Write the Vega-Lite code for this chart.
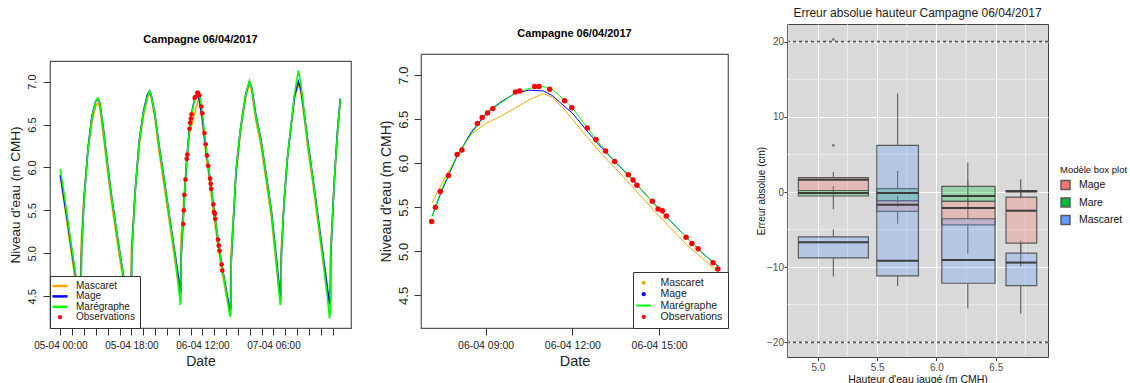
{
"$schema": "https://vega.github.io/schema/vega-lite/v6.json",
"padding": {"left": 7, "top": 6, "right": 0, "bottom": 0},
"background": "white",
"config": {"font": "Liberation Sans", "view": {"stroke": null}, "axis": {"labelOverlap": false}},
"spacing": 26,
"resolve": {"scale": {"color": "independent"}, "legend": {"color": "independent"}},
"datasets": {
"tide": [
{"t":"2017-04-05T00:00","G":5.98,"B":5.91,"O":5.90},
{"t":"2017-04-05T01:00","G":5.68,"B":5.62,"O":5.58},
{"t":"2017-04-05T02:00","G":5.35,"B":5.32,"O":5.25},
{"t":"2017-04-05T03:00","G":5.03,"B":5.00,"O":4.93},
{"t":"2017-04-05T04:00","G":4.72,"B":4.70,"O":4.62},
{"t":"2017-04-05T04:48","G":4.50,"B":4.55,"O":4.45},
{"t":"2017-04-05T05:06","G":4.45,"B":4.52,"O":4.42},
{"t":"2017-04-05T05:12","G":4.46,"B":4.55,"O":5.00},
{"t":"2017-04-05T05:24","G":5.05,"B":5.05,"O":5.25},
{"t":"2017-04-05T06:00","G":5.60,"B":5.62,"O":5.68},
{"t":"2017-04-05T07:00","G":6.20,"B":6.22,"O":6.20},
{"t":"2017-04-05T08:00","G":6.58,"B":6.60,"O":6.52},
{"t":"2017-04-05T09:00","G":6.78,"B":6.78,"O":6.72},
{"t":"2017-04-05T09:30","G":6.81,"B":6.79,"O":6.75},
{"t":"2017-04-05T10:00","G":6.75,"B":6.76,"O":6.70},
{"t":"2017-04-05T11:00","G":6.40,"B":6.42,"O":6.33},
{"t":"2017-04-05T12:00","G":6.00,"B":6.02,"O":5.93},
{"t":"2017-04-05T13:00","G":5.65,"B":5.66,"O":5.58},
{"t":"2017-04-05T14:00","G":5.33,"B":5.34,"O":5.26},
{"t":"2017-04-05T15:00","G":5.02,"B":5.03,"O":4.95},
{"t":"2017-04-05T16:00","G":4.72,"B":4.74,"O":4.66},
{"t":"2017-04-05T17:00","G":4.50,"B":4.56,"O":4.45},
{"t":"2017-04-05T17:48","G":4.40,"B":4.52,"O":4.40},
{"t":"2017-04-05T18:00","G":4.42,"B":4.55,"O":5.05},
{"t":"2017-04-05T18:06","G":5.00,"B":5.00,"O":5.15},
{"t":"2017-04-05T19:00","G":5.75,"B":5.76,"O":5.72},
{"t":"2017-04-05T20:00","G":6.30,"B":6.32,"O":6.25},
{"t":"2017-04-05T21:00","G":6.62,"B":6.64,"O":6.58},
{"t":"2017-04-05T22:00","G":6.82,"B":6.84,"O":6.80},
{"t":"2017-04-05T22:36","G":6.89,"B":6.89,"O":6.86},
{"t":"2017-04-05T23:00","G":6.85,"B":6.85,"O":6.82},
{"t":"2017-04-06T00:00","G":6.60,"B":6.61,"O":6.55},
{"t":"2017-04-06T01:00","G":6.25,"B":6.26,"O":6.18},
{"t":"2017-04-06T02:00","G":5.95,"B":5.96,"O":5.88},
{"t":"2017-04-06T03:00","G":5.63,"B":5.64,"O":5.56},
{"t":"2017-04-06T04:00","G":5.30,"B":5.32,"O":5.24},
{"t":"2017-04-06T05:00","G":4.98,"B":5.01,"O":4.92},
{"t":"2017-04-06T06:00","G":4.60,"B":4.70,"O":4.60},
{"t":"2017-04-06T06:24","G":4.40,"B":4.53,"O":4.50},
{"t":"2017-04-06T06:33","G":4.45,"B":4.56,"O":5.10},
{"t":"2017-04-06T06:36","G":5.00,"B":4.95,"O":5.20},
{"t":"2017-04-06T07:09","G":5.40,"B":5.40,"O":5.55},
{"t":"2017-04-06T07:30","G":5.72,"B":5.70,"O":5.78},
{"t":"2017-04-06T08:00","G":6.08,"B":6.07,"O":6.07},
{"t":"2017-04-06T08:30","G":6.33,"B":6.35,"O":6.33},
{"t":"2017-04-06T09:00","G":6.55,"B":6.56,"O":6.45},
{"t":"2017-04-06T09:30","G":6.68,"B":6.69,"O":6.53},
{"t":"2017-04-06T10:00","G":6.79,"B":6.79,"O":6.62},
{"t":"2017-04-06T10:30","G":6.85,"B":6.83,"O":6.72},
{"t":"2017-04-06T11:00","G":6.87,"B":6.82,"O":6.79},
{"t":"2017-04-06T11:18","G":6.84,"B":6.77,"O":6.75},
{"t":"2017-04-06T11:45","G":6.71,"B":6.64,"O":6.60},
{"t":"2017-04-06T12:00","G":6.63,"B":6.57,"O":6.50},
{"t":"2017-04-06T12:30","G":6.41,"B":6.37,"O":6.30},
{"t":"2017-04-06T13:00","G":6.20,"B":6.18,"O":6.11},
{"t":"2017-04-06T13:30","G":6.01,"B":6.01,"O":5.94},
{"t":"2017-04-06T14:00","G":5.85,"B":5.84,"O":5.76},
{"t":"2017-04-06T14:30","G":5.66,"B":5.66,"O":5.58},
{"t":"2017-04-06T15:00","G":5.48,"B":5.48,"O":5.40},
{"t":"2017-04-06T15:30","G":5.31,"B":5.31,"O":5.23},
{"t":"2017-04-06T16:00","G":5.14,"B":5.14,"O":5.06},
{"t":"2017-04-06T16:30","G":4.98,"B":4.98,"O":4.92},
{"t":"2017-04-06T17:03","G":4.82,"B":4.83,"O":4.76},
{"t":"2017-04-06T18:00","G":4.55,"B":4.58,"O":4.52},
{"t":"2017-04-06T19:00","G":4.26,"B":4.33,"O":4.30},
{"t":"2017-04-06T19:12","G":4.30,"B":4.35,"O":4.95},
{"t":"2017-04-06T19:18","G":4.95,"B":4.90,"O":5.05},
{"t":"2017-04-06T20:30","G":5.97,"B":5.95,"O":5.90},
{"t":"2017-04-06T21:30","G":6.40,"B":6.40,"O":6.35},
{"t":"2017-04-06T22:12","G":6.62,"B":6.63,"O":6.58},
{"t":"2017-04-06T23:00","G":6.86,"B":6.86,"O":6.82},
{"t":"2017-04-06T23:54","G":7.01,"B":7.00,"O":6.98},
{"t":"2017-04-07T00:30","G":6.92,"B":6.93,"O":6.88},
{"t":"2017-04-07T01:30","G":6.60,"B":6.62,"O":6.55},
{"t":"2017-04-07T02:48","G":6.32,"B":6.33,"O":6.26},
{"t":"2017-04-07T04:00","G":5.95,"B":5.96,"O":5.88},
{"t":"2017-04-07T05:24","G":5.50,"B":5.52,"O":5.44},
{"t":"2017-04-07T06:30","G":5.00,"B":5.05,"O":4.95},
{"t":"2017-04-07T07:42","G":4.40,"B":4.49,"O":4.45},
{"t":"2017-04-07T07:54","G":4.45,"B":4.52,"O":5.00},
{"t":"2017-04-07T08:00","G":5.00,"B":4.98,"O":5.10},
{"t":"2017-04-07T08:42","G":5.62,"B":5.60,"O":5.62},
{"t":"2017-04-07T09:30","G":6.10,"B":6.10,"O":6.08},
{"t":"2017-04-07T10:24","G":6.47,"B":6.47,"O":6.45},
{"t":"2017-04-07T11:18","G":6.85,"B":6.82,"O":6.80},
{"t":"2017-04-07T12:18","G":7.13,"B":7.00,"O":6.98},
{"t":"2017-04-07T13:00","G":6.95,"B":6.90,"O":6.85},
{"t":"2017-04-07T14:00","G":6.55,"B":6.56,"O":6.50},
{"t":"2017-04-07T14:42","G":6.28,"B":6.30,"O":6.22},
{"t":"2017-04-07T16:00","G":5.85,"B":5.87,"O":5.80},
{"t":"2017-04-07T17:12","G":5.42,"B":5.45,"O":5.37},
{"t":"2017-04-07T18:30","G":4.95,"B":5.00,"O":4.92},
{"t":"2017-04-07T19:30","G":4.55,"B":4.65,"O":4.55},
{"t":"2017-04-07T20:12","G":4.24,"B":4.41,"O":4.38},
{"t":"2017-04-07T20:27","G":4.35,"B":4.45,"O":5.00},
{"t":"2017-04-07T20:30","G":5.00,"B":4.95,"O":5.10},
{"t":"2017-04-07T21:24","G":5.85,"B":5.85,"O":5.82},
{"t":"2017-04-07T22:12","G":6.40,"B":6.42,"O":6.38},
{"t":"2017-04-07T22:54","G":6.79,"B":6.80,"O":6.75}
],
"obs": [
{"t":"2017-04-06T07:08","v":5.34},{"t":"2017-04-06T07:16","v":5.50},{"t":"2017-04-06T07:26","v":5.68},
{"t":"2017-04-06T07:43","v":5.86},{"t":"2017-04-06T08:01","v":6.10},{"t":"2017-04-06T08:11","v":6.15},
{"t":"2017-04-06T08:43","v":6.45},{"t":"2017-04-06T08:53","v":6.52},{"t":"2017-04-06T09:04","v":6.57},
{"t":"2017-04-06T09:15","v":6.62},{"t":"2017-04-06T10:02","v":6.81},{"t":"2017-04-06T10:11","v":6.82},
{"t":"2017-04-06T10:42","v":6.87},{"t":"2017-04-06T10:51","v":6.87},{"t":"2017-04-06T11:13","v":6.84},
{"t":"2017-04-06T11:44","v":6.71},{"t":"2017-04-06T11:59","v":6.63},{"t":"2017-04-06T12:31","v":6.40},
{"t":"2017-04-06T12:49","v":6.27},{"t":"2017-04-06T13:09","v":6.14},{"t":"2017-04-06T13:28","v":6.02},
{"t":"2017-04-06T13:56","v":5.87},{"t":"2017-04-06T14:06","v":5.81},{"t":"2017-04-06T14:14","v":5.75},
{"t":"2017-04-06T14:46","v":5.57},{"t":"2017-04-06T14:58","v":5.48},{"t":"2017-04-06T15:07","v":5.46},
{"t":"2017-04-06T15:15","v":5.40},{"t":"2017-04-06T15:56","v":5.16},{"t":"2017-04-06T16:08","v":5.09},
{"t":"2017-04-06T16:21","v":5.03},{"t":"2017-04-06T16:52","v":4.87},{"t":"2017-04-06T17:02","v":4.80}
],
"boxes": [
{"model":"Mage","xmin":4.836,"xmax":5.426,"xc":5.131,"lower":-0.5,"q1":0.2,"median":1.64,"q3":1.9,"upper":2.67},
{"model":"Mare","xmin":4.836,"xmax":5.426,"xc":5.131,"lower":-2.3,"q1":-0.53,"median":-0.13,"q3":0.2,"upper":0.8},
{"model":"Mascaret","xmin":4.836,"xmax":5.426,"xc":5.131,"lower":-11.25,"q1":-8.76,"median":-6.7,"q3":-5.96,"upper":-4.98},
{"model":"Mage","xmin":5.497,"xmax":5.848,"xc":5.672,"lower":-4.2,"q1":-2.58,"median":-1.69,"q3":-1.16,"upper":-0.5},
{"model":"Mare","xmin":5.497,"xmax":5.848,"xc":5.672,"lower":-2.0,"q1":-1.16,"median":-0.13,"q3":0.44,"upper":2.8},
{"model":"Mascaret","xmin":5.497,"xmax":5.848,"xc":5.672,"lower":-12.5,"q1":-11.16,"median":-9.16,"q3":6.2,"upper":13.1},
{"model":"Mage","xmin":6.045,"xmax":6.494,"xc":6.264,"lower":-8.2,"q1":-4.36,"median":-2.13,"q3":-1.25,"upper":-0.9},
{"model":"Mare","xmin":6.045,"xmax":6.494,"xc":6.264,"lower":-2.0,"q1":-1.25,"median":-0.53,"q3":0.75,"upper":1.5},
{"model":"Mascaret","xmin":6.045,"xmax":6.494,"xc":6.264,"lower":-15.5,"q1":-12.14,"median":-9.03,"q3":-3.56,"upper":3.9},
{"model":"Mage","xmin":6.586,"xmax":6.845,"xc":6.71,"lower":-9.9,"q1":-6.8,"median":-2.49,"q3":-0.67,"upper":0.3},
{"model":"Mare","xmin":6.586,"xmax":6.845,"xc":6.71,"lower":-0.9,"q1":0.0,"median":0.1,"q3":0.2,"upper":1.7},
{"model":"Mascaret","xmin":6.586,"xmax":6.845,"xc":6.71,"lower":-16.2,"q1":-12.45,"median":-9.39,"q3":-8.14,"upper":-6.5}
],
"outliers": [{"x":5.131,"v":6.2},{"x":5.131,"v":20.3}]
},
"hconcat": [
{
"spacing": 0,
"resolve": {"scale": {"color": "independent"}, "legend": {"color": "independent"}},
"vconcat": [
{"width": 301, "height": 9, "data": {"values": []}, "mark": {"type": "point"}, "encoding": {}, "view": {"stroke": null}},
{
"width": 301, "height": 267,
"title": {"text": "Campagne 06/04/2017", "fontSize": 11, "fontWeight": "bold", "offset": 16, "color": "#000"},
"view": {"stroke": "#555", "strokeWidth": 1.2},
"layer": [
{"data": {"name": "tide"}, "mark": {"type": "line", "strokeWidth": 1.6},
"encoding": {
"x": {"field": "t", "type": "temporal", "title": "Date",
"scale": {"domain": [{"year":2017,"month":4,"date":4,"hours":21,"minutes":23},{"year":2017,"month":4,"date":8,"hours":1,"minutes":38}], "nice": false},
"axis": {"values": [
{"year":2017,"month":4,"date":5,"hours":0},{"year":2017,"month":4,"date":5,"hours":3},{"year":2017,"month":4,"date":5,"hours":6},{"year":2017,"month":4,"date":5,"hours":9},
{"year":2017,"month":4,"date":5,"hours":12},{"year":2017,"month":4,"date":5,"hours":15},{"year":2017,"month":4,"date":5,"hours":18},{"year":2017,"month":4,"date":5,"hours":21},
{"year":2017,"month":4,"date":6,"hours":0},{"year":2017,"month":4,"date":6,"hours":3},{"year":2017,"month":4,"date":6,"hours":6},{"year":2017,"month":4,"date":6,"hours":9},
{"year":2017,"month":4,"date":6,"hours":12},{"year":2017,"month":4,"date":6,"hours":15},{"year":2017,"month":4,"date":6,"hours":18},{"year":2017,"month":4,"date":6,"hours":21},
{"year":2017,"month":4,"date":7,"hours":0},{"year":2017,"month":4,"date":7,"hours":3},{"year":2017,"month":4,"date":7,"hours":6},{"year":2017,"month":4,"date":7,"hours":9},
{"year":2017,"month":4,"date":7,"hours":12},{"year":2017,"month":4,"date":7,"hours":15},{"year":2017,"month":4,"date":7,"hours":18},{"year":2017,"month":4,"date":7,"hours":21}],
"tickCount": 40,
"labelExpr": "indexof(['05-04 00:00', '05-04 18:00', '06-04 12:00', '07-04 06:00'], timeFormat(datum.value, '%d-%m %H:%M')) >= 0 ? timeFormat(datum.value, '%d-%m %H:%M') : ''",
"grid": false, "domain": false, "tickSize": 7, "tickColor": "#333", "labelPadding": 5, "labelFontSize": 10, "labelColor": "#222", "labelFlush": false, "labelOverlap": false, "labelBound": false, "titleFontSize": 14, "titleFontWeight": "normal", "titlePadding": 4, "titleColor": "#222"}},
"y": {"field": "O", "type": "quantitative", "title": "Niveau d'eau (m CMH)",
"scale": {"domain": [4.13, 7.24], "nice": false, "zero": false},
"axis": {"values": [4.5, 5, 5.5, 6, 6.5, 7], "tickCount": 10, "format": ".1f", "labelAngle": -90, "labelAlign": "center", "labelBaseline": "bottom", "grid": false, "domain": false, "tickSize": 7, "tickColor": "#333", "labelPadding": 6, "labelFontSize": 11, "labelColor": "#222", "titleFontSize": 13.5, "titleFontWeight": "normal", "titlePadding": 4, "titleColor": "#222"}},
"color": {"datum": "Mascaret", "type": "nominal",
"scale": {"domain": ["Mascaret", "Mage", "Marégraphe", "Observations"], "range": ["#FFA500", "#0000FF", "#00FF00", "#FF0000"]},
"legend": {"orient": "bottom-left", "offset": 0, "title": null, "fillColor": "white", "strokeColor": "#333", "padding": 5, "labelFontSize": 10, "labelColor": "#222", "rowPadding": 0.4, "symbolSize": 121, "labelOffset": 11, "cornerRadius": 0,
"encode": {"symbols": {"update": {
"shape": {"signal": "datum.value === 'Observations' ? 'circle' : 'stroke'"},
"size": {"signal": "datum.value === 'Observations' ? 18 : 225"},
"fill": {"signal": "datum.value === 'Observations' ? '#FF0000' : 'transparent'"},
"stroke": {"signal": "datum.value === 'Mascaret' ? '#FFA500' : datum.value === 'Mage' ? '#0000FF' : datum.value === 'Marégraphe' ? '#00FF00' : 'transparent'"},
"strokeWidth": {"signal": "datum.value === 'Observations' ? 0 : 2.5"},
"opacity": {"value": 1}}}}}}
}},
{"data": {"name": "tide"}, "mark": {"type": "line", "strokeWidth": 1.6},
"encoding": {"x": {"field": "t", "type": "temporal", "title": "Date"}, "y": {"field": "B", "type": "quantitative", "title": "Niveau d'eau (m CMH)"}, "color": {"datum": "Mage", "type": "nominal"}}},
{"data": {"name": "tide"}, "mark": {"type": "line", "strokeWidth": 1.6},
"encoding": {"x": {"field": "t", "type": "temporal", "title": "Date"}, "y": {"field": "G", "type": "quantitative", "title": "Niveau d'eau (m CMH)"}, "color": {"datum": "Marégraphe", "type": "nominal"}}},
{"data": {"name": "obs"}, "mark": {"type": "point", "filled": true, "size": 22, "opacity": 1},
"encoding": {"x": {"field": "t", "type": "temporal", "title": "Date"}, "y": {"field": "v", "type": "quantitative", "title": "Niveau d'eau (m CMH)"}, "color": {"datum": "Observations", "type": "nominal"}}}
]
}
]
},
{
"spacing": 0,
"resolve": {"scale": {"color": "independent"}, "legend": {"color": "independent"}},
"vconcat": [
{"width": 307, "height": 2, "data": {"values": []}, "mark": {"type": "point"}, "encoding": {}, "view": {"stroke": null}},
{
"width": 307, "height": 274,
"title": {"text": "Campagne 06/04/2017", "fontSize": 11, "fontWeight": "bold", "offset": 15.5, "color": "#000"},
"view": {"stroke": "#555", "strokeWidth": 1.2},
"layer": [
{"data": {"name": "tide"}, "transform": [{"filter": {"field": "t", "range": [{"year":2017,"month":4,"date":6,"hours":7,"minutes":9},{"year":2017,"month":4,"date":6,"hours":17,"minutes":3}]}}],
"mark": {"type": "line", "strokeWidth": 1},
"encoding": {
"x": {"field": "t", "type": "temporal", "title": "Date",
"scale": {"domain": [{"year":2017,"month":4,"date":6,"hours":6,"minutes":46},{"year":2017,"month":4,"date":6,"hours":17,"minutes":23}], "nice": false},
"axis": {"values": [{"year":2017,"month":4,"date":6,"hours":9},{"year":2017,"month":4,"date":6,"hours":12},{"year":2017,"month":4,"date":6,"hours":15}],
"format": "%d-%m %H:%M", "grid": false, "domain": false, "tickSize": 7, "tickColor": "#333", "labelPadding": 5, "labelFontSize": 10.5, "labelColor": "#222", "labelFlush": false, "labelOverlap": false, "titleFontSize": 14.5, "titleFontWeight": "normal", "titlePadding": 4, "titleColor": "#222"}},
"y": {"field": "O", "type": "quantitative", "title": "Niveau d'eau (m CMH)",
"scale": {"domain": [4.13, 7.24], "nice": false, "zero": false},
"axis": {"values": [4.5, 5, 5.5, 6, 6.5, 7], "tickCount": 10, "format": ".1f", "labelAngle": -90, "labelAlign": "center", "labelBaseline": "bottom", "grid": false, "domain": false, "tickSize": 7, "tickColor": "#333", "labelPadding": 4, "labelFontSize": 13, "labelColor": "#222", "titleFontSize": 14, "titleFontWeight": "normal", "titlePadding": 4, "titleColor": "#222"}},
"color": {"datum": "Mascaret", "type": "nominal",
"scale": {"domain": ["Mascaret", "Mage", "Marégraphe", "Observations"], "range": ["#FFA500", "#0000FF", "#00FF00", "#FF0000"]},
"legend": {"orient": "bottom-right", "offset": 0, "title": null, "fillColor": "white", "strokeColor": "#333", "padding": 5.5, "labelFontSize": 10.5, "labelColor": "#222", "rowPadding": 0.4, "symbolSize": 121, "labelOffset": 11.5, "cornerRadius": 0,
"encode": {"symbols": {"update": {
"shape": {"signal": "datum.value === 'Marégraphe' ? 'stroke' : 'circle'"},
"size": {"signal": "datum.value === 'Marégraphe' ? 225 : 18"},
"fill": {"signal": "datum.value === 'Mascaret' ? '#FFA500' : datum.value === 'Mage' ? '#0000FF' : datum.value === 'Observations' ? '#FF0000' : 'transparent'"},
"stroke": {"signal": "datum.value === 'Marégraphe' ? '#00FF00' : 'transparent'"},
"strokeWidth": {"signal": "datum.value === 'Marégraphe' ? 2 : 0"},
"opacity": {"value": 1}}}}}}
}},
{"data": {"name": "tide"}, "transform": [{"filter": {"field": "t", "range": [{"year":2017,"month":4,"date":6,"hours":7,"minutes":9},{"year":2017,"month":4,"date":6,"hours":17,"minutes":3}]}}],
"mark": {"type": "line", "strokeWidth": 1},
"encoding": {"x": {"field": "t", "type": "temporal", "title": "Date"}, "y": {"field": "B", "type": "quantitative", "title": "Niveau d'eau (m CMH)"}, "color": {"datum": "Mage", "type": "nominal"}}},
{"data": {"name": "tide"}, "transform": [{"filter": {"field": "t", "range": [{"year":2017,"month":4,"date":6,"hours":7,"minutes":9},{"year":2017,"month":4,"date":6,"hours":17,"minutes":3}]}}],
"mark": {"type": "line", "strokeWidth": 1},
"encoding": {"x": {"field": "t", "type": "temporal", "title": "Date"}, "y": {"field": "G", "type": "quantitative", "title": "Niveau d'eau (m CMH)"}, "color": {"datum": "Marégraphe", "type": "nominal"}}},
{"data": {"name": "obs"}, "mark": {"type": "point", "filled": true, "size": 30, "opacity": 1},
"encoding": {"x": {"field": "t", "type": "temporal", "title": "Date"}, "y": {"field": "v", "type": "quantitative", "title": "Niveau d'eau (m CMH)"}, "color": {"datum": "Observations", "type": "nominal"}}}
]
}
]
},
{
"width": 261, "height": 333,
"title": {"text": "Erreur absolue hauteur Campagne 06/04/2017", "fontSize": 12, "fontWeight": "normal", "offset": 4, "color": "#222"},
"view": {"fill": "#D9D9D9", "stroke": "#444", "strokeWidth": 1},
"layer": [
{"data": {"values": [{"seuil": 20}, {"seuil": -20}]},
"mark": {"type": "rule", "strokeDash": [3, 3], "color": "#555", "strokeWidth": 1.6},
"encoding": {"y": {"field": "seuil", "type": "quantitative", "title": "Erreur absolue (cm)",
"scale": {"domain": [-21.95, 22.35], "nice": false, "zero": false},
"axis": {"values": [-20, -10, 0, 10, 20],
"gridColor": "white", "gridOpacity": 1, "gridWidth": 1.1,
"domain": false, "tickSize": 3, "tickColor": "#333", "labelPadding": 0.5, "labelFontSize": 10, "labelColor": "#4D4D4D", "titleFontSize": 10, "titleFontWeight": "normal", "titleColor": "#111", "titlePadding": 0}}}},
{"data": {"values": [{"gy": -15}, {"gy": -5}, {"gy": 5}, {"gy": 15}]}, "mark": {"type": "rule", "color": "white", "strokeWidth": 0.5},
"encoding": {"y": {"field": "gy", "type": "quantitative", "title": "Erreur absolue (cm)"}}},
{"data": {"values": [{"gx": 4.75}, {"gx": 5.25}, {"gx": 5.75}, {"gx": 6.25}, {"gx": 6.75}]}, "mark": {"type": "rule", "color": "white", "strokeWidth": 0.5},
"encoding": {"x": {"field": "gx", "type": "quantitative", "title": "Hauteur d'eau jaugé (m CMH)",
"scale": {"domain": [4.74, 6.94], "nice": false, "zero": false},
"axis": {"values": [5, 5.5, 6, 6.5], "format": ".1f",
"gridColor": "white", "gridOpacity": 1, "gridWidth": 1.1,
"domain": false, "tickSize": 3.5, "tickColor": "#333", "labelPadding": 1.5, "labelFontSize": 10, "labelColor": "#4D4D4D", "labelFlush": false, "titleFontSize": 10.5, "titleFontWeight": "normal", "titleColor": "#111", "titlePadding": 2}}}},
{"data": {"name": "boxes"}, "mark": {"type": "rule", "color": "#666", "strokeWidth": 1.2},
"encoding": {"x": {"field": "xc", "type": "quantitative", "title": "Hauteur d'eau jaugé (m CMH)"}, "y": {"field": "q3", "type": "quantitative", "title": "Erreur absolue (cm)"}, "y2": {"field": "upper"}}},
{"data": {"name": "boxes"}, "mark": {"type": "rule", "color": "#666", "strokeWidth": 1.2},
"encoding": {"x": {"field": "xc", "type": "quantitative", "title": "Hauteur d'eau jaugé (m CMH)"}, "y": {"field": "lower", "type": "quantitative", "title": "Erreur absolue (cm)"}, "y2": {"field": "q1"}}},
{"data": {"name": "boxes"}, "mark": {"type": "rect", "fillOpacity": 0.3, "stroke": "#5a5a5a", "strokeWidth": 1.2},
"encoding": {"x": {"field": "xmin", "type": "quantitative", "title": "Hauteur d'eau jaugé (m CMH)"}, "x2": {"field": "xmax"},
"y": {"field": "q1", "type": "quantitative", "title": "Erreur absolue (cm)"}, "y2": {"field": "q3"},
"color": {"field": "model", "type": "nominal",
"scale": {"domain": ["Mage", "Mare", "Mascaret"], "range": ["#F8766D", "#00BA38", "#619CFF"]},
"legend": {"orient": "none", "legendX": 273, "legendY": 141, "title": "Modèle box plot", "titleFontSize": 9.5, "titleFontWeight": "normal", "titleColor": "#111", "titlePadding": 5, "labelFontSize": 10.5, "labelColor": "#111", "symbolType": "square", "symbolSize": 80, "rowPadding": 2.5, "labelOffset": 8,
"encode": {"symbols": {"update": {"fillOpacity": {"value": 0.35}, "stroke": {"value": "#666"}, "strokeWidth": {"value": 1}, "opacity": {"value": 1}}}}}}}},
{"data": {"name": "boxes"}, "mark": {"type": "rule", "color": "#3c3c3c", "strokeWidth": 2},
"encoding": {"x": {"field": "xmin", "type": "quantitative", "title": "Hauteur d'eau jaugé (m CMH)"}, "x2": {"field": "xmax"}, "y": {"field": "median", "type": "quantitative", "title": "Erreur absolue (cm)"}}},
{"data": {"name": "outliers"}, "mark": {"type": "point", "filled": true, "size": 8, "color": "#777", "opacity": 1},
"encoding": {"x": {"field": "x", "type": "quantitative", "title": "Hauteur d'eau jaugé (m CMH)"}, "y": {"field": "v", "type": "quantitative", "title": "Erreur absolue (cm)"}}},
{"mark": {"type": "text", "text": "Seuil = 20 cm", "fontSize": 11, "color": "#222", "baseline": "middle", "align": "center"},
"encoding": {"x": {"datum": 6.564, "type": "quantitative"}, "y": {"datum": 20, "type": "quantitative"}}}
]
}
]
}
